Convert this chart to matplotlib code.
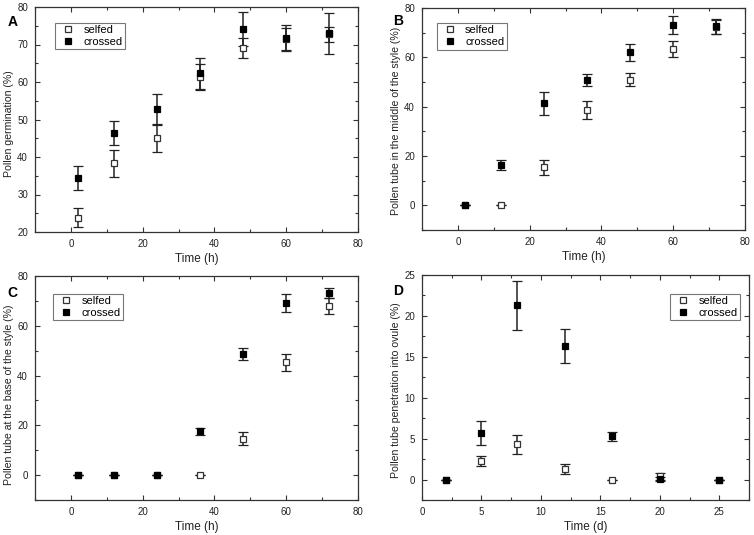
import matplotlib.pyplot as plt
from matplotlib.lines import Line2D
from matplotlib.ticker import MultipleLocator

plt.rcParams["font.family"] = ["Liberation Sans", "DejaVu Sans"]

# ── Data ─────────────────────────────────────────────────────────────────────
hours = [2, 12, 24, 36, 48, 60, 72]
days = [2, 5, 8, 12, 16, 20, 25]

# A: pollen germination (%)
a_self = [23.8, 38.3, 45.0, 61.3, 69.1, 71.5, 72.8]
a_self_err = [2.5, 3.5, 3.6, 3.4, 2.6, 3.0, 2.0]
a_cross = [34.3, 46.4, 52.7, 62.3, 74.1, 71.7, 73.0]
a_cross_err = [3.2, 3.1, 4.0, 4.2, 4.5, 3.5, 5.5]

# B: pollen tube in the middle of the style (%)
b_self = [0, 0, 15.4, 38.7, 51.0, 63.3, 72.3]
b_self_err = [0, 0, 3.0, 3.5, 2.5, 3.2, 2.8]
b_cross = [0, 16.4, 41.3, 50.7, 62.0, 73.1, 72.6]
b_cross_err = [0, 2.1, 4.6, 2.5, 3.6, 3.5, 3.0]

# C: pollen tube at the base of the style (%)
c_self = [0, 0, 0, 0, 14.7, 45.4, 67.9]
c_self_err = [0, 0, 0, 0, 2.5, 3.4, 3.3]
c_cross = [0, 0, 0, 17.6, 48.7, 69.1, 73.1]
c_cross_err = [0, 0, 0, 1.4, 2.5, 3.5, 2.1]

# D: pollen tube penetration into ovule (%)
d_self = [0, 2.3, 4.3, 1.3, 0, 0.4, 0]
d_self_err = [0, 0.6, 1.2, 0.6, 0, 0.4, 0]
d_cross = [0, 5.7, 21.3, 16.3, 5.3, 0.05, 0]
d_cross_err = [0, 1.5, 3.0, 2.1, 0.55, 0.25, 0]


# ── Plot ─────────────────────────────────────────────────────────────────────
W, H = 754, 535
fig = plt.figure(figsize=(W / 100, H / 100), dpi=100)


def make_axes(left, right, top, bottom):
    return fig.add_axes([left / W, 1 - bottom / H, (right - left) / W, (bottom - top) / H])


def panel(ax, x, ys, ys_err, yc, yc_err, xlim, ylim, xmaj, ymaj, xlabel, ylabel,
          ylabel_y, legend_loc, legend_anchor):
    kw = dict(fmt="s", ms=4.4, ecolor="#222222", elinewidth=1.1, capsize=3.8,
              capthick=1.1, markeredgewidth=0.9)
    ax.errorbar(x, ys, yerr=ys_err, mfc="white", mec="#333333", **kw)
    ax.errorbar(x, yc, yerr=yc_err, mfc="black", mec="black", **kw)
    ax.set_xlim(*xlim)
    ax.set_ylim(*ylim)
    ax.xaxis.set_major_locator(MultipleLocator(xmaj))
    ax.xaxis.set_minor_locator(MultipleLocator(xmaj / 2))
    ax.yaxis.set_major_locator(MultipleLocator(ymaj))
    ax.yaxis.set_minor_locator(MultipleLocator(ymaj / 2))
    ax.tick_params(which="both", direction="in", top=True, right=True, labelsize=7,
                   width=0.8, colors="#333333", labelcolor="#222222")
    ax.tick_params(which="major", length=3.5, pad=5)
    ax.tick_params(which="minor", length=2)
    ax.set_xlabel(xlabel, fontsize=8.5, labelpad=3, color="#222222")
    ax.set_ylabel(ylabel, fontsize=7.6, color="#222222")
    ax.yaxis.set_label_coords(-0.065, ylabel_y)
    for s in ax.spines.values():
        s.set_linewidth(0.9)
        s.set_color("#333333")
    handles = [
        Line2D([], [], ls="none", marker="s", ms=4.4, mfc="white", mec="#333333", mew=0.9),
        Line2D([], [], ls="none", marker="s", ms=4.4, mfc="black", mec="black", mew=0.9),
    ]
    leg = ax.legend(handles, ["selfed", "crossed"], loc=legend_loc,
                    bbox_to_anchor=legend_anchor, borderaxespad=0, fontsize=8,
                    frameon=True, fancybox=False, edgecolor="#555555",
                    handlelength=2.0, handletextpad=0.35, borderpad=0.2,
                    labelspacing=0.18)
    leg.get_frame().set_linewidth(0.8)


axA = make_axes(35, 358, 7, 232)
panel(axA, hours, a_self, a_self_err, a_cross, a_cross_err, (-10, 80), (20, 80), 20, 10,
      "Time (h)", "Pollen germination (%)", 0.48, "upper left", (0.062, 0.93))

axB = make_axes(422, 745, 8, 230)
panel(axB, hours, b_self, b_self_err, b_cross, b_cross_err, (-10, 80), (-10, 80), 20, 20,
      "Time (h)", "Pollen tube in the middle of the style (%)", 0.49,
      "upper left", (0.046, 0.932))

axC = make_axes(35, 358, 276, 500)
panel(axC, hours, c_self, c_self_err, c_cross, c_cross_err, (-10, 80), (-10, 80), 20, 20,
      "Time (h)", "Pollen tube at the base of the style (%)", 0.47,
      "upper left", (0.056, 0.92))

axD = make_axes(422, 749, 275, 500)
panel(axD, days, d_self, d_self_err, d_cross, d_cross_err, (0, 27.5), (-2.5, 25), 5, 5,
      "Time (d)", "Pollen tube penetration into ovule (%)", 0.49,
      "upper right", (0.972, 0.916))

for txt, (x, y) in zip("ABCD", [(8, 22), (393, 21), (7, 293), (393, 291)]):
    fig.text(x / W, 1 - y / H, txt, fontsize=10, fontweight="bold", va="center", ha="left")

fig.savefig("out.png", dpi=100)
